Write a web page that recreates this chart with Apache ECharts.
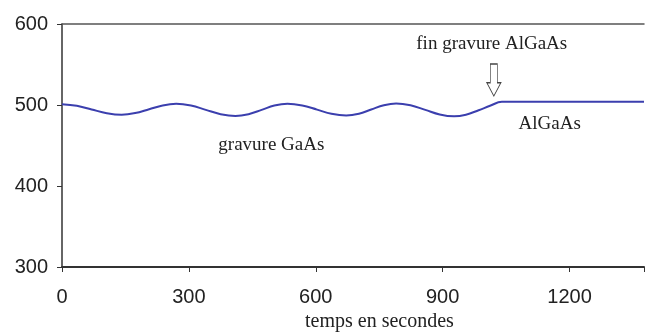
<!DOCTYPE html>
<html>
<head>
<meta charset="utf-8">
<script src="https://cdn.jsdelivr.net/npm/echarts@6/dist/echarts.min.js"></script>
<style>
  html, body { margin: 0; padding: 0; background: #fff; }
  #main { width: 647px; height: 336px; }
</style>
</head>
<body>
<div id="main"></div>
<script>
// temps (s) et signal
var temps = [0, 35, 70, 106, 141, 173, 206, 238, 270, 305, 340, 375, 410, 441, 472, 502, 533,
  568, 603, 637, 672, 702, 731, 761, 790, 824, 859, 893, 927, 955, 985, 1012, 1040,
  1100, 1200, 1300, 1376];
var signal = [501, 499.1, 494.5, 489.9, 488, 490, 494.8, 499.5, 501.5, 499.3, 494, 488.7, 486.5,
  488.7, 494, 499.3, 501.5, 499.4, 494.3, 489.1, 487, 489.2, 494.5, 499.8, 502, 499.7, 494, 488.3,
  486, 488, 493.5, 499, 504, 504, 504, 504, 504];
var xTicks = [0, 300, 600, 900, 1200];
var yTicks = [300, 400, 500, 600];

var serif = 'Liberation Serif';
var sans = 'Liberation Sans';

var data = temps.map(function (t, i) { return [t, signal[i]]; });

var myChart = echarts.init(document.getElementById('main'));
myChart.setOption({
    animation: false,
    grid: { left: 62, right: 1, top: 24, bottom: 69 },
    xAxis: [{
        type: 'value', min: 0, max: 1376, interval: 300,
        splitLine: { show: false },
        axisLine: { lineStyle: { color: '#333', width: 2 } },
        axisTick: { length: 5, lineStyle: { color: '#333' } },
        axisLabel: { color: '#222', fontFamily: sans, fontSize: 20, margin: 20,
            formatter: function (v) { return xTicks.indexOf(v) >= 0 ? v : ''; } }
    }, {
        type: 'value', position: 'top', min: 0, max: 1376,
        splitLine: { show: false },
        axisLine: { show: true, lineStyle: { color: '#555', width: 1.5 } },
        axisTick: { show: false }, axisLabel: { show: false }
    }],
    yAxis: {
        type: 'value', min: yTicks[0], max: yTicks[yTicks.length - 1], interval: 100,
        splitLine: { show: false },
        axisLine: { show: true, lineStyle: { color: '#333', width: 1.5 } },
        axisTick: { show: true, length: 5, lineStyle: { color: '#333' } },
        axisLabel: { color: '#222', fontFamily: sans, fontSize: 20, margin: 14 }
    },
    series: [{
        type: 'line',
        data: data,
        smooth: 0.4,
        showSymbol: false,
        lineStyle: { color: '#3b3fae', width: 2 },
        markPoint: {
            silent: true,
            data: [{
                coord: [1021, 511],
                symbol: 'path://M3,0 L9,0 L9,14 L12,14 L6,24 L0,14 L3,14 Z',
                symbolSize: [14, 32],
                symbolOffset: [0, '-50%'],
                itemStyle: { color: '#fff', borderColor: '#444', borderWidth: 1 },
                label: { show: false }
            }, {
                coord: [495, 450], value: 'gravure GaAs'
            }, {
                coord: [1016, 575.5], value: 'fin gravure AlGaAs'
            }, {
                coord: [1153, 477], value: 'AlGaAs'
            }],
            symbol: 'circle',
            symbolSize: 1,
            itemStyle: { color: 'transparent' },
            label: {
                show: true, position: 'inside',
                formatter: '{c}',
                color: '#222', fontFamily: serif, fontSize: 19
            }
        }
    }],
    graphic: [{
        type: 'text', left: 305, top: 312,
        style: { text: 'temps en secondes', font: '20px "Liberation Serif"', fill: '#222' }
    }]
});
</script>
</body>
</html>
